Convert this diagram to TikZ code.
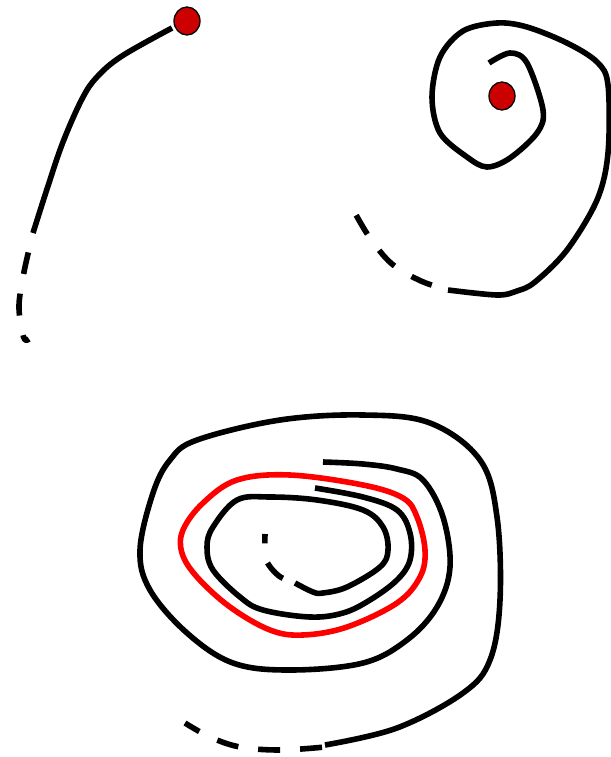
\documentclass[tikz,border=0pt]{standalone}
\usetikzlibrary{shapes.geometric}
\definecolor{cDot}{HTML}{CC0000}
\definecolor{cRing}{HTML}{FF0000}
\tikzset{
  traj/.style={draw=black, line width=5.6pt, line join=round},
  ghost/.style={traj, dash pattern=on 22pt off 20pt, dash phase=22pt},
  ring/.style={traj, draw=cRing},
  fixpt/.style={ellipse, draw=black, line width=1.3pt, fill=cDot, minimum width=26pt, minimum height=28pt, inner sep=0pt},
}
\begin{document}
\begin{tikzpicture}[x=1pt, y=-1pt]
\useasboundingbox (0,0) rectangle (610,757);
% escaping trajectory
\node[fixpt] (src) at (187,21) {};
\draw[traj] plot[smooth, tension=0.6] coordinates {(172,28) (122,56) (97,77) (82,99) (63,142) (48,186) (33,233)};
\draw[ghost] plot[smooth, tension=0.6] coordinates {(33,233) (24,272) (19,305) (22,330) (25,340) (29,339)};
% spiral out of the focus
\node[fixpt] (focus) at (502,96) {};
\draw[traj] plot[smooth, tension=0.55] coordinates {(489,63) (510,53) (527,63) (543,110) (537,133) (510,158) (487,167) (467,157) (440,133) (432,97) (440,57) (463,31) (497,23) (527,27) (567,43) (597,62) (608,85) (608,153) (597,200) (567,250) (535,282) (517,291) (497,295) (448,290)};
\draw[ghost, dash phase=25pt] plot[smooth, tension=0.6] coordinates {(448,290) (421,281) (392,264) (370,238) (355,213)};
% limit cycle
\draw[ring] plot[smooth cycle, tension=0.6] coordinates {(290,475) (237,480) (203,503) (183,530) (182,553) (197,577) (230,607) (270,630) (303,635) (347,627) (397,603) (420,577) (425,550) (417,517) (403,498) (363,485)};
% inner spiral
\draw[traj] plot[smooth, tension=0.6] coordinates {(315,488) (363,497) (397,510) (410,533) (410,560) (397,580) (370,600) (343,613) (310,617) (263,610) (240,597) (213,570) (207,547) (213,527) (237,500) (270,497) (317,500) (363,510) (383,527) (388,550) (380,567) (347,587) (323,593) (313,592) (295,583)};
\draw[ghost, dash phase=29pt] plot[smooth, tension=0.6] coordinates {(295,583) (279,576) (267,562) (265,549) (265,534)};
% outer spiral
\draw[traj] plot[smooth, tension=0.6] coordinates {(323,462) (363,464) (397,469) (423,480) (443,517) (450,567) (437,607) (407,640) (363,663) (290,670) (233,663) (187,633) (150,590) (140,550) (153,493) (170,460) (197,440) (280,420) (363,415) (430,423) (480,460) (497,517) (500,600) (490,660) (463,693) (397,728) (325,745)};
\draw[ghost, dash phase=39pt] plot[smooth, tension=0.6] coordinates {(325,747) (280,750) (240,747) (210,737) (185,723)};
\end{tikzpicture}
\end{document}
